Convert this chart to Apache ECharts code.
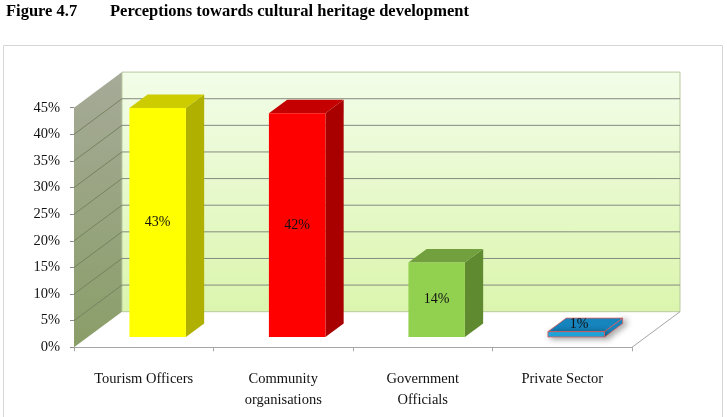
<!DOCTYPE html>
<html>
<head>
<meta charset="utf-8">
<script src="https://cdn.jsdelivr.net/npm/echarts@6/dist/echarts.min.js"></script>
<style>
html,body{margin:0;padding:0;background:#fff;}
#chart{width:727px;height:417px;}
</style>
</head>
<body>
<div id="chart"></div>
<script>
const categories = ["Tourism Officers", "Community\norganisations", "Government\nOfficials", "Private Sector"];
const values = [43, 42, 14, 1];
const yTicks = [0, 5, 10, 15, 20, 25, 30, 35, 40, 45];

const frontColors = ["#ffff00", "#ff0000", "#92d050", "#22aee6"];
const topColors = ["#cccc00", "#c40000", "#72a03e", "#1684bd"];
const sideColors = ["#b0b000", "#a80000", "#5f8a30", "#1a8cc6"];

const DX = 48, DY = -35.6;     // depth vector (front -> back wall)
const F0 = 0.29, F1 = 0.67;    // bar depth fractions
const serif = '"Liberation Serif", "Times New Roman", serif';

const chart = echarts.init(document.getElementById('chart'), null, {renderer: 'canvas'});

function wallsRender(params, api) {
  const cs = params.coordSys;
  const x0 = cs.x, x1 = cs.x + cs.width;
  const yBot = api.coord([0, 0])[1];
  const yTop = api.coord([0, yTicks[yTicks.length - 1]])[1];
  const children = [];
  children.push({
    type: 'polygon',
    shape: {points: [[x0, yTop], [x0 + DX, yTop + DY], [x0 + DX, yBot + DY], [x0, yBot]]},
    style: {fill: new echarts.graphic.LinearGradient(0, 0, 0, 1, [
      {offset: 0, color: '#a6aa98'}, {offset: 1, color: '#8a9e68'}])}
  });
  children.push({
    type: 'rect',
    shape: {x: x0 + DX, y: yTop + DY, width: x1 - x0, height: yBot - yTop},
    style: {fill: new echarts.graphic.LinearGradient(0, 0, 0, 1, [
      {offset: 0, color: '#f3fde9'}, {offset: 1, color: '#dbf5ad'}]),
      stroke: '#b9c9a0', lineWidth: 1}
  });
  yTicks.forEach(function (t) {
    if (t === 0 || t === yTicks[yTicks.length - 1]) return;
    const y = api.coord([0, t])[1];
    children.push({
      type: 'line',
      shape: {x1: x0 + DX, y1: y + DY, x2: x1 + DX, y2: y + DY},
      style: {stroke: '#858a80', lineWidth: 1}
    });
    children.push({
      type: 'line',
      shape: {x1: x0, y1: y, x2: x0 + DX, y2: y + DY},
      style: {stroke: '#75835f', lineWidth: 1}
    });
  });
  children.push({
    type: 'line',
    shape: {x1: x1, y1: yBot, x2: x1 + DX, y2: yBot + DY},
    style: {stroke: '#a6a6a6', lineWidth: 1}
  });
  return {type: 'group', children: children};
}

function barsRender(params, api) {
  const i = api.value(0), v = api.value(1);
  const c0 = api.coord([i, 0]);
  const c1 = api.coord([i, v]);
  const bw = api.size([1, 0])[0] * 0.405;
  const fx = F0 * DX, fy = F0 * DY;
  const bx = (F1 - F0) * DX, by = (F1 - F0) * DY;
  const L = c0[0] - bw / 2 + fx, R = L + bw;
  const B = c0[1] + fy, T = c1[1] + fy;
  const idx = params.dataIndex;
  const thin = (B - T) < 20;
  const stroke = thin ? '#e05a5a' : null;
  const lw = thin ? 0.8 : 0;
  const shadow = thin ? {shadowColor: 'rgba(0,0,0,0.45)', shadowBlur: 6, shadowOffsetX: 3, shadowOffsetY: 1} : {};
  const children = [
    {type: 'polygon', shape: {points: [[R, T], [R + bx, T + by], [R + bx, B + by], [R, B]]},
      style: Object.assign({fill: sideColors[idx], stroke: stroke, lineWidth: lw}, shadow)},
    {type: 'polygon', shape: {points: [[L, T], [R, T], [R + bx, T + by], [L + bx, T + by]]},
      style: {fill: topColors[idx], stroke: stroke, lineWidth: lw}},
    {type: 'rect', shape: {x: L, y: T, width: bw, height: B - T},
      style: Object.assign({fill: frontColors[idx], stroke: stroke, lineWidth: lw}, shadow)},
    {type: 'text', x: thin ? (L + R) / 2 + 3 : (L + R) / 2, y: thin ? T - 7 : (T + B) / 2,
      style: {text: v + '%', fill: '#111', font: '14px ' + serif, align: 'center', verticalAlign: 'middle'}}
  ];
  return {type: 'group', children: children};
}

const option = {
  animation: false,
  backgroundColor: '#ffffff',
  graphic: [
    {type: 'rect', shape: {x: 3.5, y: 45.5, width: 719, height: 380},
      style: {fill: 'none', stroke: '#d6d6d6', lineWidth: 1}, z: -10},
    {type: 'text', left: 6, top: 3, style: {text: 'Figure 4.7', font: 'bold 16.5px ' + serif, fill: '#000'}},
    {type: 'text', left: 110, top: 3, style: {text: 'Perceptions towards cultural heritage development', font: 'bold 16.5px ' + serif, fill: '#000'}}
  ],
  grid: {left: 74, right: 95, top: 107.7, bottom: 69.7, containLabel: false},
  xAxis: {
    type: 'category',
    data: categories,
    boundaryGap: true,
    axisLine: {show: true, lineStyle: {color: '#a6a6a6', width: 1}},
    axisTick: {show: true, length: 4, lineStyle: {color: '#a6a6a6'}},
    axisLabel: {color: '#111', fontFamily: serif, fontSize: 14.5, lineHeight: 21, margin: 21, interval: 0, verticalAlign: 'top'},
    splitLine: {show: false}
  },
  yAxis: {
    type: 'value',
    min: 0, max: 45, interval: 5,
    axisLine: {show: false},
    axisTick: {show: true, length: 4, lineStyle: {color: '#8c8c8c'}},
    axisLabel: {color: '#111', fontFamily: serif, fontSize: 14.5, margin: 14, formatter: '{value}%'},
    splitLine: {show: false}
  },
  series: [
    {type: 'custom', renderItem: wallsRender, data: [[0, 0]], z: 1, silent: true},
    {type: 'custom', renderItem: barsRender,
      data: values.map(function (v, i) { return [i, v]; }), z: 2,
      encode: {x: 0, y: 1}}
  ]
};
chart.setOption(option);
</script>
</body>
</html>
